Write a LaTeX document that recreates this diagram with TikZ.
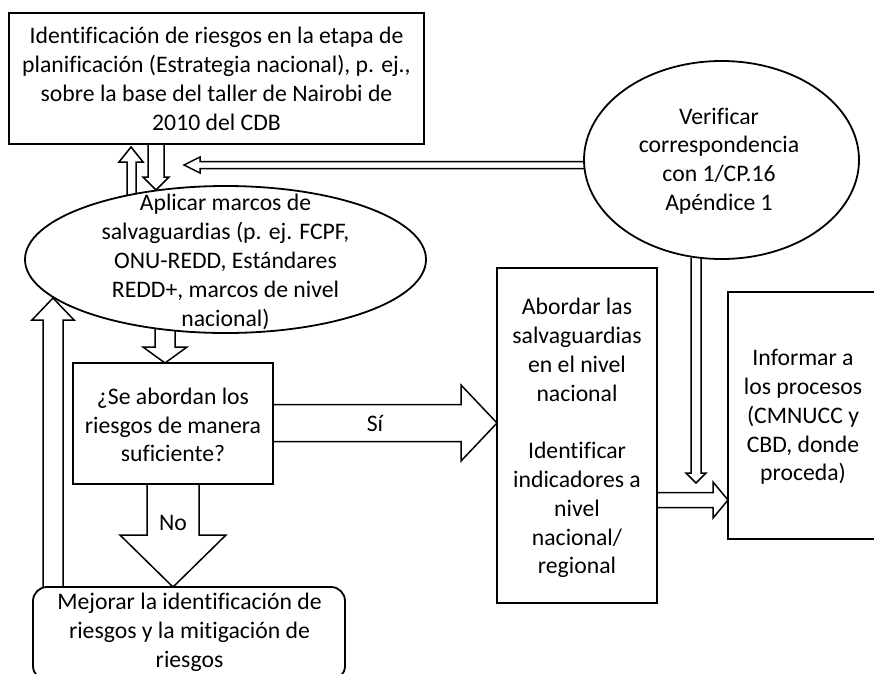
\documentclass[tikz,border=0pt]{standalone}
\usepackage{fontspec}
\setmainfont{Carlito}[Ligatures=NoCommon]
\usetikzlibrary{shapes.geometric}
\begin{document}
\begin{tikzpicture}[x=1pt,y=-1pt,
  box/.style={draw, line width=1.8pt, rectangle, inner sep=0pt},
  oval/.style={draw, line width=1.8pt, ellipse, inner sep=0pt},
  txt/.style={font=\fontsize{23.7}{28.8}\selectfont, align=center, inner sep=0pt},
  blk/.style={draw, line width=1.5pt, line join=miter},
]
\useasboundingbox (0,0) rectangle (874,673);

% ---------- block arrows ----------
% up arrow (Aplicar -> top box)
\draw[blk] (127,195.5) -- (127,162) -- (119,162) -- (131,147) -- (143,162) -- (136,162) -- (136,193.7);
% down arrow (top box -> Aplicar)
\draw[blk] (148,144) -- (148,177) -- (143,177) -- (156,190) -- (169,177) -- (164,177) -- (164,144);
% long arrow from Verificar to top area
\draw[blk] (585,161.5) -- (200,161.5) -- (200,157) -- (184,165) -- (200,173) -- (200,168.5) -- (585,168.5);
% left up arrow (Mejorar -> Aplicar)
\draw[blk] (43,587) -- (43,320) -- (32,320) -- (53,298) -- (74,320) -- (63,320) -- (63,587);
% Aplicar -> question
\draw[blk] (155,328.3) -- (155,347) -- (143,347) -- (165,363) -- (187,347) -- (175,347) -- (175,330.6);
% Si arrow
\draw[blk] (273,404.5) -- (461,404.5) -- (461,385) -- (497,423) -- (461,461) -- (461,441.5) -- (273,441.5);
% No arrow
\draw[blk] (147,484) -- (147,535) -- (120,535) -- (173,587) -- (226,535) -- (199,535) -- (199,484);
% narrow down arrow from Verificar
\draw[blk] (691,257.5) -- (691,473) -- (686,473) -- (696,483) -- (706,473) -- (701,473) -- (701,257.5);
% Abordar -> Informar
\draw[blk] (657,492.5) -- (713,492.5) -- (713,482) -- (728,500) -- (713,518) -- (713,507.5) -- (657,507.5);

% ---------- shapes ----------
\node[box, minimum width=415pt, minimum height=131pt] (top) at (216.5,78.5) {};
\node[oval, minimum width=401pt, minimum height=147pt] (apl) at (225.5,259.5) {};
\node[oval, minimum width=275pt, minimum height=198pt] (ver) at (721.5,160) {};
\node[box, minimum width=200pt, minimum height=121pt] (q) at (173,423.5) {};
\node[box, rounded corners=14pt, minimum width=312pt, minimum height=93pt] (mej) at (189,633.5) {};
\node[box, minimum width=160pt, minimum height=335pt] (abo) at (577,435.5) {};
\node[box, minimum width=150pt, minimum height=247pt] (inf) at (803,415.5) {};

% ---------- texts ----------
\node[txt] (toptxt) at (216.5,79) {Identificación de riesgos en la etapa de\\planificación (Estrategia nacional), p. ej.,\\sobre la base del taller de Nairobi de\\2010 del CDB};
\node[txt] (apltxt) at (225.5,262) {Aplicar marcos de\\salvaguardias (p. ej. FCPF,\\ONU-REDD, Estándares\\REDD+, marcos de nivel\\nacional)};
\node[txt] (vertxt) at (719,161) {Verificar\\correspondencia\\con 1/CP.16\\Apéndice 1};
\node[txt] (qtxt) at (173,425) {¿Se abordan los\\riesgos de manera\\suficiente?};
\node[txt] (mejtxt) at (189.5,632) {Mejorar la identificación de\\riesgos y la mitigación de\\riesgos};
\node[txt] (abotxt) at (577,438) {Abordar las\\salvaguardias\\en el nivel\\nacional\\[28.8pt]Identificar\\indicadores a\\nivel\\nacional/\\regional};
\node[txt] (inftxt) at (803,417) {Informar a\\los procesos\\(CMNUCC y\\CBD, donde\\proceda)};
\node[txt] (si) at (375,423) {Sí};
\node[txt] (no) at (173,523) {No};
\end{tikzpicture}
\end{document}
